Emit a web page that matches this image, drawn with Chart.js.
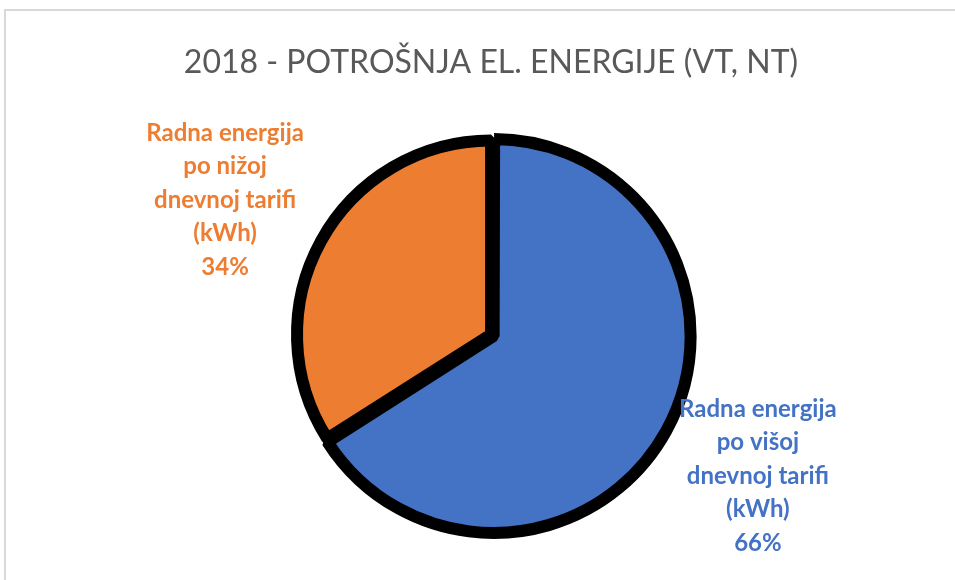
<!DOCTYPE html>
<html>
<head>
<meta charset="utf-8">
<script src="https://cdn.jsdelivr.net/npm/chart.js@4/dist/chart.umd.min.js"></script>
<style>
    html, body { margin: 0; padding: 0; background: #fff; overflow: hidden; }
    #wrap { position: relative; width: 955px; height: 580px; }
    #frame { position: absolute; left: 4px; top: 9px; width: 1000px; height: 700px; border: 2px solid #d9d9d9; }
    #chart { position: absolute; left: 0; top: 0; }
</style>
</head>
<body>
<div id="wrap">
    <div id="frame"></div>
    <canvas id="chart" width="955" height="580"></canvas>
</div>
<script>
const titleText = '2018 - POTROŠNJA EL. ENERGIJE (VT, NT)';
const sliceLabels = [
    ['Radna energija', 'po višoj', 'dnevnoj tarifi', '(kWh)'],
    ['Radna energija', 'po nižoj', 'dnevnoj tarifi', '(kWh)']
];
const sliceValues = [66, 34];
const sliceColors = ['#4472C4', '#ED7D31'];
const sliceOffsets = [12, 0];

// small manual nudge so the label blocks sit where Excel put them
const labelNudge = [[4, -3], [-3, 10]];

// labels outside the pie, placed along each slice's middle angle
const outsideLabels = {
    id: 'outsideLabels',
    afterDatasetsDraw(chart) {
        const ctx = chart.ctx;
        const meta = chart.getDatasetMeta(0);
        const total = sliceValues.reduce((a, b) => a + b, 0);
        ctx.save();
        ctx.font = 'bold 24px Lato';
        ctx.textAlign = 'center';
        ctx.textBaseline = 'middle';
        meta.data.forEach((arc, i) => {
            const {x, y, startAngle, endAngle, outerRadius} = arc.getProps(['x', 'y', 'startAngle', 'endAngle', 'outerRadius'], true);
            const mid = (startAngle + endAngle) / 2;
            const dist = outerRadius + 106;
            const cx = x + Math.cos(mid) * dist + labelNudge[i][0];
            const cy = y + Math.sin(mid) * dist + labelNudge[i][1];
            const lines = sliceLabels[i].concat([Math.round(sliceValues[i] / total * 100) + '%']);
            const lh = 33.5;
            ctx.fillStyle = sliceColors[i];
            lines.forEach((line, j) => {
                ctx.fillText(line, cx, cy + (j - (lines.length - 1) / 2) * lh);
            });
        });
        ctx.restore();
    }
};

new Chart(document.getElementById('chart'), {
    type: 'pie',
    data: {
        labels: sliceLabels.map(l => l.join(' ')),
        datasets: [{
            data: sliceValues,
            backgroundColor: sliceColors,
            borderColor: '#000',
            borderWidth: 12,
            offset: sliceOffsets,
            hoverOffset: 0
        }]
    },
    options: {
        responsive: false,
        animation: false,
        radius: 194,
        layout: { padding: { left: 27, right: 0, top: 0, bottom: 5 } },
        events: [],
        plugins: {
            legend: { display: false },
            tooltip: { enabled: false },
            title: {
                display: true,
                text: titleText,
                color: '#595959',
                font: { family: 'Lato', size: 32, weight: 'normal', lineHeight: 1.2 },
                padding: { top: 43, bottom: 12.6 }
            }
        }
    },
    plugins: [outsideLabels]
});
</script>
</body>
</html>
